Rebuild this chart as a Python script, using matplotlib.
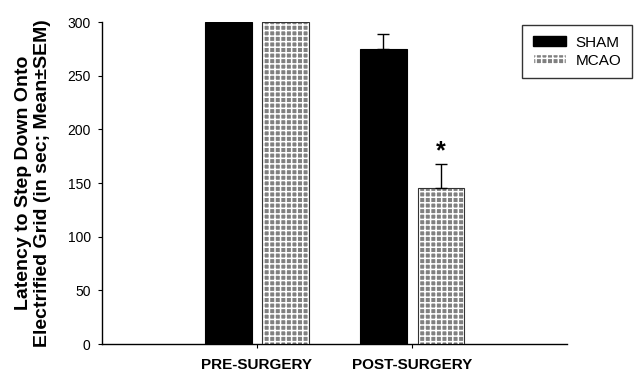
import matplotlib.pyplot as plt
import numpy as np
from matplotlib.patches import Patch

plt.rcParams['font.family'] = ['Liberation Sans', 'DejaVu Sans']
plt.rcParams['hatch.linewidth'] = 1.1

# ---------- Dados ---------- #
grupos = ['PRE-SURGERY', 'POST-SURGERY']
sham_media = [300, 275]
sham_sem = [0, 14]
mcao_media = [300, 145]
mcao_sem = [0, 23]
signif_mcao = [False, True]

CINZA = '#808080'
LARGURA = 0.30
DESLOC = 0.185

fig = plt.figure(figsize=(6.36, 3.76), dpi=100)
ax = fig.add_axes([0.160, 0.085, 0.732, 0.856])

x = np.arange(len(grupos))

# SHAM: barras pretas
ax.bar(x - DESLOC, sham_media, LARGURA, color='black', edgecolor='black', lw=0.8, zorder=2)

# MCAO: fundo cinza + grade branca por cima + contorno
ax.bar(x + DESLOC, mcao_media, LARGURA, color=CINZA, lw=0, zorder=2)
ax.bar(x + DESLOC, mcao_media, LARGURA, fill=False, hatch='+++', edgecolor='white', lw=0, zorder=3)
ax.bar(x + DESLOC, mcao_media, LARGURA, fill=False, edgecolor='#333333', lw=0.8, zorder=4)

# Barras de erro só para cima
for xs, med, sem in [(x - DESLOC, sham_media, sham_sem), (x + DESLOC, mcao_media, mcao_sem)]:
    for xi, m, s in zip(xs, med, sem):
        if s > 0:
            ax.errorbar(xi, m, yerr=[[0], [s]], fmt='none', ecolor='black',
                        elinewidth=1, capsize=4, capthick=1, zorder=5)

# Asterisco de significância
for xi, m, s, sig in zip(x + DESLOC, mcao_media, mcao_sem, signif_mcao):
    if sig:
        ax.text(xi, m + s + 12, '*', ha='center', va='center', fontsize=18, fontweight='bold')

ax.set_xlim(-1, 2)
ax.set_ylim(0, 300)
ax.set_yticks(np.arange(0, 301, 50))
ax.set_xticks(x)
ax.set_xticklabels(grupos, fontsize=11, fontweight='bold')
ax.tick_params(axis='x', length=3, width=0.8, pad=7)
ax.tick_params(axis='y', length=3, width=0.8, labelsize=10, pad=5)
for lado in ['top', 'right']:
    ax.spines[lado].set_visible(False)
for lado in ['left', 'bottom']:
    ax.spines[lado].set_linewidth(1.0)

ax.set_ylabel('Latency to Step Down Onto\nElectrified Grid (in sec; Mean±SEM)',
              fontsize=14, fontweight='bold', labelpad=12, linespacing=1.15)

# Legenda
handles = [Patch(facecolor='black', edgecolor='black', label='SHAM'),
           Patch(facecolor=CINZA, edgecolor='white', hatch='+++', label='MCAO')]
leg = fig.legend(handles=handles, loc='upper right', bbox_to_anchor=(632 / 636, 1 - 25 / 376),
                 fontsize=11, frameon=True, fancybox=False, edgecolor='black',
                 handlelength=2.2, handleheight=0.6, borderpad=0.7, labelspacing=0.25,
                 handletextpad=0.6, borderaxespad=0.0)
leg.get_frame().set_linewidth(1.0)

fig.savefig('out.png', dpi=100)
